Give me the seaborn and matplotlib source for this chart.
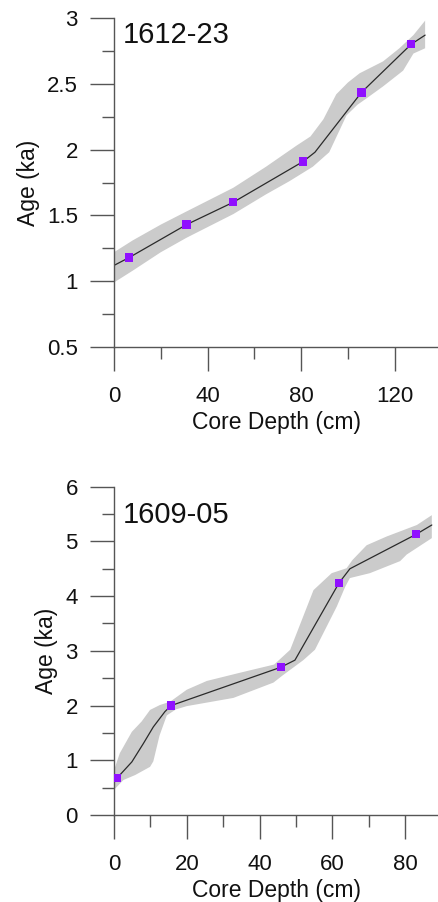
import matplotlib
matplotlib.use("Agg")
import matplotlib.pyplot as plt
import seaborn as sns
import numpy as np
from matplotlib.ticker import MultipleLocator, FuncFormatter

# ---------------- data: core 1612-23 ----------------
title_a = "1612-23"
pts_depth_a = [6.5, 31, 51, 80.9, 105.8, 127]
pts_age_a = [1.18, 1.43, 1.60, 1.91, 2.435, 2.80]
line_depth_a = [0, 6.5, 31, 51, 80.9, 85.9, 105.8, 127, 133]
line_age_a = [1.12, 1.18, 1.43, 1.60, 1.91, 1.98, 2.435, 2.80, 2.87]
upper_depth_a = [0, 8, 20, 31, 51, 65, 78, 84, 89.5, 95, 100, 105, 115, 122, 128, 133]
upper_age_a = [1.22, 1.31, 1.43, 1.53, 1.71, 1.87, 2.03, 2.10, 2.23, 2.42, 2.51, 2.58, 2.67, 2.77, 2.87, 2.98]
lower_depth_a = [0, 8, 20, 31, 51, 65, 75, 85, 92, 99.4, 104, 108, 115, 123.6, 128, 133]
lower_age_a = [0.99, 1.08, 1.22, 1.33, 1.51, 1.66, 1.76, 1.87, 1.98, 2.26, 2.34, 2.39, 2.48, 2.60, 2.73, 2.77]

# ---------------- data: core 1609-05 ----------------
title_b = "1609-05"
pts_depth_b = [0.9, 15.7, 45.8, 61.8, 83]
pts_age_b = [0.68, 2.00, 2.70, 4.24, 5.13]
line_depth_b = [0, 0.9, 4.9, 8.1, 10.8, 14, 15.7, 45.8, 49.7, 61.8, 64.8, 83, 87.3]
line_age_b = [0.60, 0.68, 0.97, 1.31, 1.61, 1.89, 2.00, 2.70, 2.83, 4.24, 4.50, 5.13, 5.30]
upper_depth_b = [0, 1.6, 4.9, 7.6, 9.9, 12.6, 15.4, 20, 25.5, 34.6, 44, 48.4, 54.8, 59.8, 63.9, 65.5, 69.4, 74.9, 83.2, 87.3]
upper_age_b = [0.82, 1.13, 1.52, 1.71, 1.92, 2.01, 2.07, 2.29, 2.45, 2.60, 2.75, 3.02, 4.11, 4.42, 4.51, 4.66, 4.93, 5.09, 5.30, 5.48]
lower_depth_b = [0, 2.6, 5.8, 9.9, 10.8, 12.5, 14.5, 17, 20, 32.8, 43.8, 46.5, 52, 55.2, 61.2, 63.5, 64.8, 70.3, 78.6, 80.4, 87.3]
lower_age_b = [0.46, 0.64, 0.73, 0.88, 0.98, 1.45, 1.82, 1.93, 1.99, 2.14, 2.42, 2.56, 2.83, 3.02, 3.81, 4.17, 4.33, 4.42, 4.64, 4.76, 5.06]

x_label = "Core Depth (cm)"
y_label = "Age (ka)"

sns.set_theme(style="white")
plt.rcParams['font.family'] = ['Liberation Sans', 'DejaVu Sans']

fig = plt.figure(figsize=(4.38, 9.02), dpi=100)
ax_a = fig.add_axes([114/438, 1-347/902, 324/438, 329/902])
ax_b = fig.add_axes([114/438, 87/902, 324/438, 328.3/902])

spine_col = "#555555"
band_col = "#cbcbcb"
mark_col = "#9010ff"
text_col = "#111111"

def draw(ax, title, ud, ua, ld, la, lnd, lna, pd_, pa, xlim, ylim, xmaj, xmin, ymaj, ymin, ty):
    poly_x = list(ud) + list(ld)[::-1]
    poly_y = list(ua) + list(la)[::-1]
    ax.fill(poly_x, poly_y, color=band_col, lw=0, zorder=1)
    sns.lineplot(x=lnd, y=lna, ax=ax, sort=False, estimator=None,
                 color="#2a2a2a", lw=0.9, zorder=2)
    sns.scatterplot(x=pd_, y=pa, ax=ax, marker="s", s=36, color=mark_col,
                    edgecolor="none", zorder=3)
    ax.set_xlim(*xlim)
    ax.set_ylim(*ylim)
    for s in ["top", "right"]:
        ax.spines[s].set_visible(False)
    for s in ["left", "bottom"]:
        ax.spines[s].set_color(spine_col)
        ax.spines[s].set_linewidth(1.0)
    ax.xaxis.set_major_locator(MultipleLocator(xmaj))
    ax.xaxis.set_minor_locator(MultipleLocator(xmin))
    ax.yaxis.set_major_locator(MultipleLocator(ymaj))
    ax.yaxis.set_minor_locator(MultipleLocator(ymin))
    ax.yaxis.set_major_formatter(FuncFormatter(lambda v, p: f"{v:g}"))
    ax.xaxis.set_major_formatter(FuncFormatter(lambda v, p: f"{v:g}"))
    ax.tick_params(axis="both", which="major", direction="out", length=17,
                   width=1.0, color=spine_col, labelsize=16, labelcolor=text_col,
                   bottom=True, left=True)
    ax.tick_params(axis="x", which="major", pad=11)
    ax.tick_params(axis="y", which="major", pad=9)
    ax.tick_params(axis="both", which="minor", direction="out", length=8.6,
                   width=1.0, color=spine_col, bottom=True, left=True)
    ax.set_xlabel(x_label, fontsize=16.5, labelpad=3, color=text_col)
    ax.set_ylabel(y_label, fontsize=16.5, labelpad=5, color=text_col)
    ax.text(0.028, ty, title, transform=ax.transAxes, fontsize=21,
            ha="left", va="center", color=text_col)
    ax.grid(False)

draw(ax_a, title_a, upper_depth_a, upper_age_a, lower_depth_a, lower_age_a,
     line_depth_a, line_age_a, pts_depth_a, pts_age_a,
     (0, 138.5), (0.5, 3), 40, 20, 0.5, 0.25, 0.948)
draw(ax_b, title_b, upper_depth_b, upper_age_b, lower_depth_b, lower_age_b,
     line_depth_b, line_age_b, pts_depth_b, pts_age_b,
     (0, 89), (0, 6), 20, 10, 1, 0.5, 0.914)

fig.savefig("out.png", dpi=100, facecolor="white")
